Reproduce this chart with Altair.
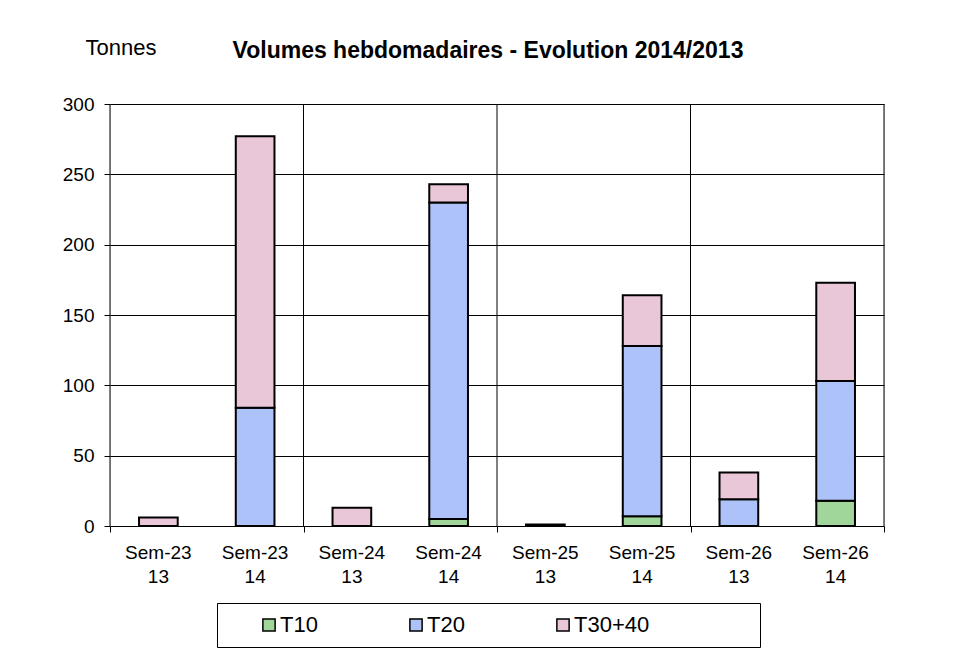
import altair as alt
import pandas as pd

weeks = ["Sem-23", "Sem-23", "Sem-24", "Sem-24", "Sem-25", "Sem-25", "Sem-26", "Sem-26"]
years = ["13", "14", "13", "14", "13", "14", "13", "14"]
t10 = [0, 0, 0, 5, 0, 7, 0, 18]
t20 = [0, 84, 0, 225, 0, 121, 19, 85]
t30_40 = [6, 193, 13, 13, 1, 36, 19, 70]
series = ["T10", "T20", "T30+40"]
colors = ["#A0D69A", "#ADC2F8", "#E9C6D8"]
separators = [0, 2, 4, 6, 8]
y_ticks = [0, 50, 100, 150, 200, 250, 300]

cats = [f"{w} {y}" for w, y in zip(weeks, years)]
rows = []
for i, c in enumerate(cats):
    for k, (name, vals) in enumerate(zip(series, [t10, t20, t30_40])):
        if vals[i] > 0:
            rows.append({"cat": c, "series": name, "value": vals[i], "ord": k})
df = pd.DataFrame(rows)

FONT = "Liberation Sans"

bars = alt.Chart(df).mark_bar(stroke="black", strokeWidth=2).encode(
    x=alt.X(
        "cat:N", sort=cats,
        scale=alt.Scale(paddingInner=0.6, paddingOuter=0.3),
        axis=alt.Axis(orient="bottom", labelExpr="split(datum.label, ' ')", ticks=False,
                      domain=False, labelFontSize=19, labelPadding=17, labelAngle=0,
                      title=None, labelLineHeight=24),
    ),
    y=alt.Y(
        "value:Q", stack="zero",
        scale=alt.Scale(domain=[0, 300], nice=False),
        axis=alt.Axis(values=y_ticks, grid=True, gridColor="black", gridWidth=1,
                      tickSize=6, tickColor="black", domain=False, labelFontSize=19,
                      labelPadding=10, title="Tonnes", titleAngle=0, titleAlign="left",
                      titleBaseline="alphabetic", titleX=-25, titleY=-50,
                      titleFontSize=22, titleFontWeight="normal", titleFont=FONT),
    ),
    color=alt.Color(
        "series:N", scale=alt.Scale(domain=series, range=colors),
        legend=alt.Legend(
            orient="none", legendX=107, legendY=499, direction="horizontal",
            title=".", titleOrient="right", titleColor="white", titleFontSize=10,
            titlePadding=97,
            strokeColor="black", fillColor="white", padding=11,
            symbolType="square", symbolSize=150, symbolStrokeColor="black",
            symbolStrokeWidth=1.5, symbolOffset=30, labelFontSize=22, labelFont=FONT,
            labelOffset=0, columnPadding=57,
        ),
    ),
    order=alt.Order("ord:Q"),
)

seps = alt.Chart(pd.DataFrame({"sep": separators})).mark_rule(color="black", strokeWidth=1).encode(
    x=alt.X("sep:Q", scale=alt.Scale(domain=[0, 8], nice=False),
            axis=alt.Axis(orient="bottom", values=separators, labels=False, ticks=True,
                          tickSize=6, tickColor="black", domain=False, grid=False,
                          title=None)),
    y=alt.datum(0),
    y2=alt.datum(300),
)

chart = alt.layer(bars, seps).resolve_scale(x="independent").properties(
    width=774, height=422,
    autosize=alt.AutoSizeParams(type="none"),
    padding={"left": 102, "top": 96, "right": 80, "bottom": 125},
    title=alt.Title("Volumes hebdomadaires - Evolution 2014/2013", fontSize=23,
                    fontWeight="bold", font=FONT, anchor="middle", dx=-9,
                    baseline="alphabetic", offset=-45, color="black"),
).configure_view(stroke="black", strokeWidth=2).configure_axis(
    labelFont=FONT, labelColor="black"
).configure(background="white")

chart.save("out.html", embed_options={"renderer": "svg", "actions": False})
